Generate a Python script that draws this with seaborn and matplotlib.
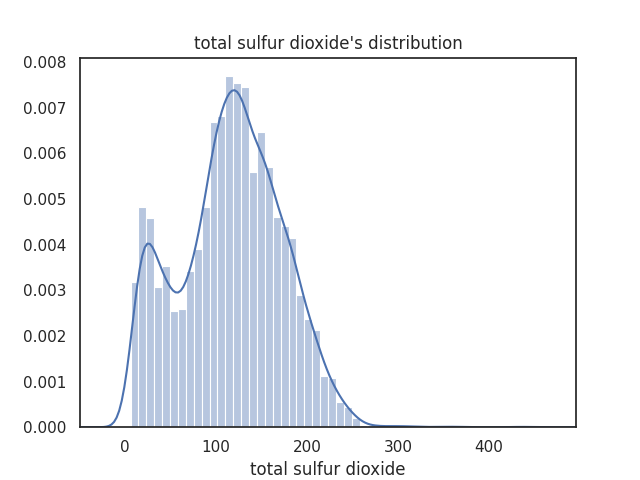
import numpy as np
import pandas as pd
import matplotlib
matplotlib.use("Agg")
import matplotlib.pyplot as plt
import seaborn as sns

# Histogram (density): 50 bins from 6 to 440
bin_start = 6.0
bin_stop = 440.0
n_bins = 50
density = [
    0.00317, 0.00483, 0.00459, 0.00308, 0.00354, 0.00255, 0.00260, 0.00343, 0.00391, 0.00482,
    0.00669, 0.00682, 0.00770, 0.00755, 0.00746, 0.00560, 0.00646, 0.00569, 0.00461, 0.00441,
    0.00415, 0.00290, 0.00237, 0.00214, 0.00113, 0.00107, 0.00055, 0.00045, 0.00020, 0.00004,
    0.00004, 0.00002, 0.00002, 0.00002, 0.00004, 0.00000, 0.00002, 0.00000, 0.00000, 0.00002,
    0.00000, 0.00002, 0.00000, 0.00000, 0.00000, 0.00000, 0.00000, 0.00000, 0.00000, 0.00002,
]
kde_bandwidth = 10.3  # in data units
title = "total sulfur dioxide's distribution"
xlabel = "total sulfur dioxide"

edges = np.linspace(bin_start, bin_stop, n_bins + 1)
centers = (edges[:-1] + edges[1:]) / 2
df = pd.DataFrame({"x": centers, "w": density})

sns.set_theme(style="white")
fig, ax = plt.subplots(figsize=(6.4, 4.8), dpi=100)

sns.histplot(data=df, x="x", weights="w", bins=n_bins, binrange=(bin_start, bin_stop),
             stat="count", color="C0", alpha=0.4, edgecolor="white", linewidth=0.8, ax=ax)

w = np.asarray(density)
sd = np.sqrt(np.cov(centers, aweights=w))
sns.kdeplot(data=df, x="x", weights="w", bw_method=kde_bandwidth / sd, cut=3,
            color="C0", linewidth=1.5, ax=ax)

ax.set_xlim(-49.6, 495.6)
ax.set_ylim(0, 0.008096)
ax.set_xticks([0, 100, 200, 300, 400])
ax.set_yticks(np.arange(0, 0.0081, 0.001))
ax.yaxis.set_major_formatter(matplotlib.ticker.FormatStrFormatter("%.3f"))
ax.set_title(title)
ax.set_xlabel(xlabel)
ax.set_ylabel("")
fig.savefig("out.png", dpi=100)
